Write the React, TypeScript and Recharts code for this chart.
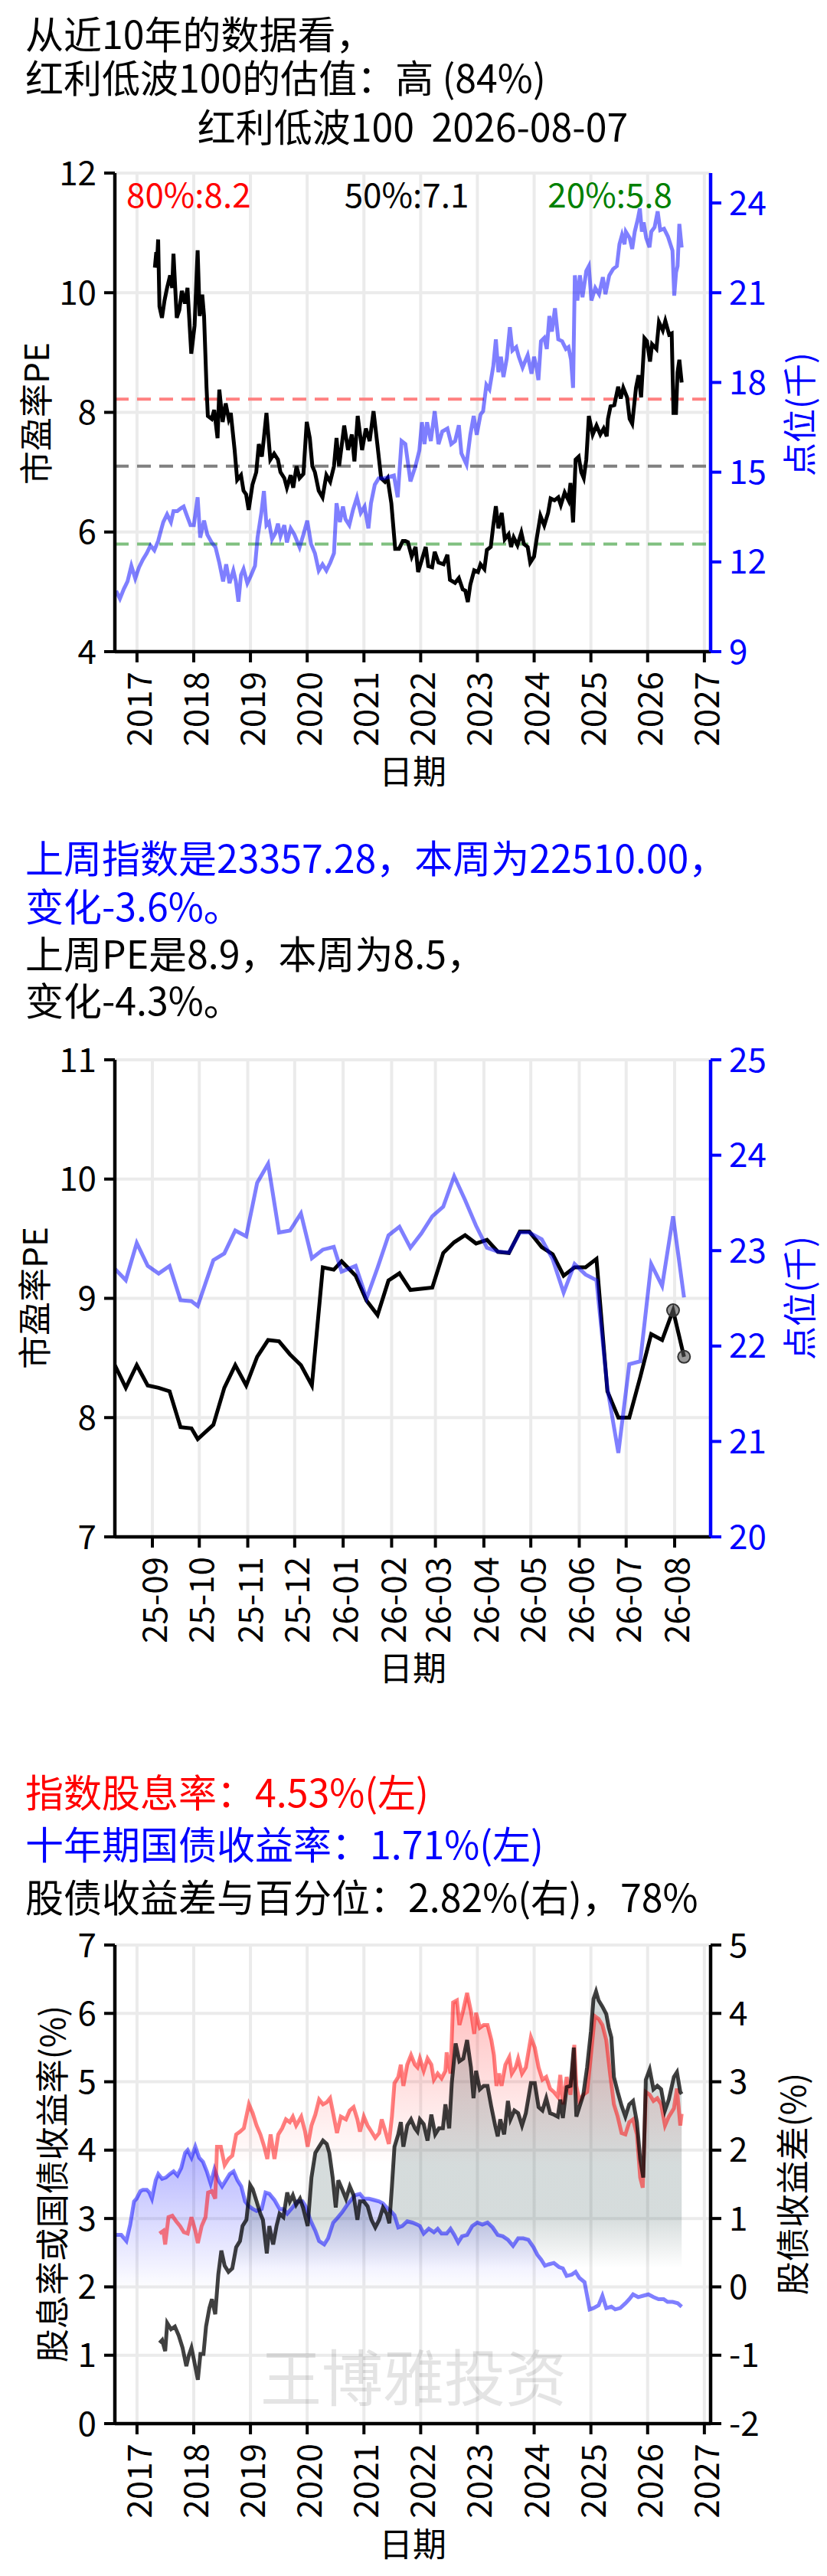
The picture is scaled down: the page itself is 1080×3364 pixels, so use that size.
import {
  ComposedChart,
  Line,
  Area,
  XAxis,
  YAxis,
  CartesianGrid,
  ReferenceLine,
  ReferenceDot,
} from 'recharts'

const FONT = '"Noto Sans CJK SC", "Noto Sans", sans-serif'
const W = 1080
const GRID = '#ebebeb'
const BLUE = '#0000ff'

// x axis of the long charts is in decimal years
const YEAR_TICKS = [2017, 2018, 2019, 2020, 2021, 2022, 2023, 2024, 2025, 2026, 2027]
const YEAR_DOMAIN = [2016.61, 2027.11]

// ---- chart 1: 10y PE vs index level (thousands) ----
const PE_P80 = 8.22
const PE_P50 = 7.1
const PE_P20 = 5.8

const PE_10Y: [number, number][] = [
  [2017.315, 10.42], [2017.34, 10.68], [2017.35, 10.45], [2017.373, 10.89], [2017.396, 9.77],
  [2017.44, 9.58], [2017.485, 9.87], [2017.53, 10.08], [2017.584, 10.29], [2017.62, 10.08],
  [2017.643, 10.65], [2017.701, 9.58], [2017.746, 9.71], [2017.791, 10.03], [2017.845, 9.82],
  [2017.89, 10.08], [2017.957, 8.98], [2018.015, 9.45], [2018.069, 10.71], [2018.105, 9.61],
  [2018.15, 9.97], [2018.182, 9.61], [2018.226, 8.41], [2018.249, 7.94], [2018.316, 7.89],
  [2018.361, 8.04], [2018.42, 7.57], [2018.451, 8.38], [2018.51, 7.84], [2018.563, 8.15],
  [2018.617, 7.89], [2018.653, 7.99], [2018.721, 7.37], [2018.766, 6.87], [2018.833, 6.95],
  [2018.878, 6.69], [2018.923, 6.63], [2018.968, 6.37], [2019.035, 6.79], [2019.102, 7.0],
  [2019.147, 7.47], [2019.201, 7.26], [2019.237, 7.57], [2019.282, 7.99], [2019.35, 7.21],
  [2019.417, 7.31], [2019.484, 7.21], [2019.529, 7.0], [2019.597, 6.9], [2019.642, 6.74],
  [2019.709, 6.95], [2019.754, 6.74], [2019.812, 7.1], [2019.866, 6.9], [2019.933, 6.97],
  [2019.992, 7.84], [2020.046, 7.57], [2020.091, 7.1], [2020.136, 7.0], [2020.203, 6.69],
  [2020.27, 6.58], [2020.338, 6.95], [2020.405, 6.84], [2020.472, 7.1], [2020.517, 7.57],
  [2020.562, 7.1], [2020.652, 7.78], [2020.72, 7.37], [2020.787, 7.63], [2020.832, 7.18],
  [2020.89, 7.94], [2020.967, 7.37], [2021.034, 7.73], [2021.101, 7.52], [2021.169, 8.02],
  [2021.236, 7.47], [2021.303, 6.9], [2021.371, 6.84], [2021.416, 6.9], [2021.483, 6.48],
  [2021.551, 5.72], [2021.618, 5.72], [2021.685, 5.85], [2021.73, 5.85], [2021.775, 5.83],
  [2021.842, 5.59], [2021.91, 5.75], [2021.955, 5.33], [2022.022, 5.54], [2022.089, 5.75],
  [2022.134, 5.43], [2022.202, 5.41], [2022.247, 5.67], [2022.314, 5.49], [2022.404, 5.46],
  [2022.471, 5.62], [2022.516, 5.2], [2022.606, 5.15], [2022.673, 5.23], [2022.741, 5.04],
  [2022.786, 5.02], [2022.831, 4.83], [2022.875, 5.12], [2022.943, 5.36], [2023.01, 5.33],
  [2023.055, 5.46], [2023.123, 5.38], [2023.167, 5.7], [2023.235, 5.75], [2023.28, 6.11],
  [2023.325, 6.43], [2023.37, 6.06], [2023.428, 6.32], [2023.482, 5.88], [2023.549, 5.96],
  [2023.594, 5.75], [2023.639, 5.91], [2023.706, 5.78], [2023.774, 5.99], [2023.819, 5.8],
  [2023.886, 5.75], [2023.931, 5.49], [2023.998, 5.59], [2024.043, 5.88], [2024.111, 6.27],
  [2024.178, 6.11], [2024.246, 6.32], [2024.29, 6.56], [2024.358, 6.53], [2024.425, 6.58],
  [2024.47, 6.45], [2024.538, 6.66], [2024.605, 6.53], [2024.641, 6.82], [2024.686, 6.16],
  [2024.731, 7.21], [2024.785, 7.26], [2024.83, 7.0], [2024.874, 6.9], [2024.919, 7.21],
  [2024.964, 7.94], [2025.032, 7.63], [2025.099, 7.78], [2025.166, 7.63], [2025.225, 7.73],
  [2025.279, 7.6], [2025.301, 7.89], [2025.346, 8.1], [2025.413, 8.12], [2025.481, 8.43],
  [2025.526, 8.23], [2025.571, 8.41], [2025.638, 8.25], [2025.683, 7.89], [2025.728, 7.81],
  [2025.795, 8.41], [2025.84, 8.62], [2025.885, 8.25], [2025.944, 9.24], [2025.988, 9.19],
  [2026.042, 8.85], [2026.078, 9.14], [2026.155, 9.06], [2026.2, 9.51], [2026.267, 9.37],
  [2026.312, 9.53], [2026.379, 9.3], [2026.424, 9.32], [2026.456, 7.99], [2026.5, 7.99],
  [2026.527, 8.67], [2026.559, 8.88], [2026.6, 8.5],
]

const IDX_10Y: [number, number][] = [
  [2016.632, 11.03], [2016.699, 10.77], [2016.767, 11.09], [2016.834, 11.35], [2016.901, 11.87],
  [2016.969, 11.45], [2017.036, 11.82], [2017.104, 12.08], [2017.171, 12.29], [2017.238, 12.55],
  [2017.306, 12.39], [2017.373, 12.7], [2017.418, 13.02], [2017.463, 13.33], [2017.53, 13.59],
  [2017.598, 13.33], [2017.643, 13.7], [2017.71, 13.7], [2017.777, 13.8], [2017.822, 13.85],
  [2017.881, 13.54], [2017.943, 13.23], [2018.002, 13.23], [2018.069, 14.16], [2018.114, 12.81],
  [2018.182, 13.38], [2018.24, 12.91], [2018.316, 12.65], [2018.384, 12.49], [2018.451, 11.97],
  [2018.518, 11.35], [2018.572, 11.92], [2018.631, 11.29], [2018.698, 11.71], [2018.743, 11.35],
  [2018.788, 10.67], [2018.833, 11.56], [2018.878, 11.76], [2018.945, 11.29], [2019.012, 11.56],
  [2019.08, 11.87], [2019.125, 12.81], [2019.192, 13.64], [2019.237, 14.37], [2019.282, 13.23],
  [2019.327, 13.33], [2019.381, 12.76], [2019.439, 12.96], [2019.484, 13.28], [2019.529, 12.86],
  [2019.597, 13.23], [2019.642, 12.65], [2019.709, 13.12], [2019.776, 12.91], [2019.866, 12.49],
  [2019.933, 12.91], [2020.001, 13.38], [2020.068, 12.6], [2020.136, 12.29], [2020.203, 11.71],
  [2020.27, 11.92], [2020.338, 11.71], [2020.405, 11.97], [2020.472, 12.29], [2020.517, 13.96],
  [2020.576, 13.33], [2020.63, 13.85], [2020.675, 13.43], [2020.742, 13.23], [2020.809, 13.75],
  [2020.877, 14.16], [2020.944, 13.64], [2021.011, 13.85], [2021.079, 13.12], [2021.124, 13.96],
  [2021.191, 14.58], [2021.259, 14.79], [2021.348, 14.79], [2021.438, 14.84], [2021.528, 14.89],
  [2021.595, 14.16], [2021.663, 16.04], [2021.73, 15.94], [2021.82, 14.69], [2021.91, 15.21],
  [2021.977, 15.73], [2022.022, 16.67], [2022.067, 15.94], [2022.112, 16.67], [2022.179, 16.04],
  [2022.247, 17.04], [2022.314, 15.94], [2022.381, 16.36], [2022.471, 16.46], [2022.539, 15.94],
  [2022.606, 16.04], [2022.673, 16.57], [2022.718, 15.63], [2022.808, 15.26], [2022.875, 16.25],
  [2022.934, 16.88], [2022.988, 16.25], [2023.055, 16.93], [2023.1, 17.04], [2023.158, 17.92],
  [2023.212, 17.77], [2023.28, 18.55], [2023.325, 19.44], [2023.37, 18.34], [2023.414, 18.86],
  [2023.459, 18.18], [2023.518, 18.81], [2023.572, 19.85], [2023.617, 19.07], [2023.684, 19.18],
  [2023.729, 18.86], [2023.796, 18.5], [2023.841, 18.71], [2023.886, 18.91], [2023.954, 18.29],
  [2023.998, 18.86], [2024.043, 18.5], [2024.075, 18.08], [2024.12, 19.38], [2024.178, 19.49],
  [2024.223, 19.12], [2024.268, 20.22], [2024.313, 19.7], [2024.367, 20.48], [2024.425, 19.44],
  [2024.493, 19.38], [2024.56, 19.12], [2024.605, 19.18], [2024.65, 18.76], [2024.686, 17.82],
  [2024.717, 21.58], [2024.762, 20.74], [2024.807, 21.58], [2024.852, 20.85], [2024.919, 21.73],
  [2024.964, 21.89], [2025.009, 20.74], [2025.077, 21.16], [2025.144, 20.95], [2025.211, 21.52],
  [2025.256, 20.95], [2025.324, 21.58], [2025.391, 21.79], [2025.458, 21.89], [2025.503, 22.62],
  [2025.548, 22.93], [2025.593, 22.62], [2025.616, 23.04], [2025.683, 22.83], [2025.728, 22.46],
  [2025.773, 23.04], [2025.827, 23.46], [2025.863, 23.82], [2025.899, 23.04], [2025.93, 23.35],
  [2025.975, 22.83], [2026.033, 22.52], [2026.065, 23.04], [2026.123, 23.19], [2026.177, 23.72],
  [2026.222, 23.09], [2026.289, 23.14], [2026.357, 22.88], [2026.402, 22.62], [2026.438, 22.41],
  [2026.469, 20.9], [2026.501, 21.68], [2026.528, 21.89], [2026.559, 23.3], [2026.6, 22.51],
]

// ---- chart 2: last year, weekly ----
const W_DATES = [
  '2025-08-08', '2025-08-15', '2025-08-22', '2025-08-29', '2025-09-05', '2025-09-12', '2025-09-19',
  '2025-09-26', '2025-09-30', '2025-10-10', '2025-10-17', '2025-10-24', '2025-10-31', '2025-11-07',
  '2025-11-14', '2025-11-21', '2025-11-28', '2025-12-05', '2025-12-12', '2025-12-19', '2025-12-26',
  '2025-12-31', '2026-01-09', '2026-01-16', '2026-01-23', '2026-01-30', '2026-02-06', '2026-02-13',
  '2026-02-20', '2026-02-27', '2026-03-06', '2026-03-13', '2026-03-20', '2026-03-27', '2026-04-03',
  '2026-04-10', '2026-04-17', '2026-04-24', '2026-04-30', '2026-05-08', '2026-05-15', '2026-05-22',
  '2026-05-29', '2026-06-05', '2026-06-12', '2026-06-19', '2026-06-26', '2026-07-03', '2026-07-10',
  '2026-07-17', '2026-07-24', '2026-07-31', '2026-08-07',
]
const W_PE = [
  8.44, 8.25, 8.44, 8.27, 8.25, 8.22, 7.92, 7.91, 7.82, 7.94,
  8.25, 8.44, 8.27, 8.51, 8.65, 8.64, 8.53, 8.44, 8.27, 9.26,
  9.24, 9.31, 9.19, 8.98, 8.86, 9.15, 9.21, 9.07, 9.08, 9.09,
  9.38, 9.47, 9.53, 9.46, 9.49, 9.39, 9.38, 9.56, 9.56, 9.43,
  9.37, 9.19, 9.26, 9.26, 9.33, 8.22, 8.0, 8.0, 8.34, 8.7,
  8.65, 8.9, 8.51,
]
const W_IDX = [
  22.81, 22.69, 23.08, 22.84, 22.76, 22.84, 22.48, 22.47, 22.42, 22.9,
  22.97, 23.21, 23.15, 23.71, 23.91, 23.19, 23.21, 23.39, 22.92, 23.01,
  23.04, 22.78, 22.84, 22.5, 22.82, 23.16, 23.25, 23.03, 23.18, 23.36,
  23.46, 23.78, 23.53, 23.26, 23.03, 22.99, 22.98, 23.19, 23.19, 23.12,
  22.91, 22.56, 22.86, 22.75, 22.69, 21.56, 20.88, 21.81, 21.84, 22.86,
  22.63, 23.36, 22.51,
]
const MONTH_TICKS = [
  '2025-09-01', '2025-10-01', '2025-11-01', '2025-12-01', '2026-01-01', '2026-02-01',
  '2026-03-01', '2026-04-01', '2026-05-01', '2026-06-01', '2026-07-01', '2026-08-01',
]
const W_DOMAIN = ['2025-08-08', '2026-08-24']

// ---- chart 3: dividend yield, 10y bond yield, spread ----
const BOND_10Y: [number, number][] = [
  [2016.633, 2.76], [2016.723, 2.76], [2016.813, 2.67], [2016.88, 2.91], [2016.948, 3.25],
  [2016.993, 3.29], [2017.06, 3.4], [2017.105, 3.42], [2017.173, 3.42], [2017.218, 3.38],
  [2017.263, 3.29], [2017.33, 3.56], [2017.375, 3.65], [2017.443, 3.58], [2017.51, 3.6],
  [2017.578, 3.65], [2017.645, 3.69], [2017.713, 3.63], [2017.78, 3.74], [2017.848, 3.96],
  [2017.893, 4.0], [2017.96, 3.89], [2018.028, 4.05], [2018.095, 3.89], [2018.163, 3.83],
  [2018.23, 3.69], [2018.298, 3.51], [2018.365, 3.72], [2018.433, 3.56], [2018.5, 3.47],
  [2018.568, 3.56], [2018.635, 3.65], [2018.703, 3.69], [2018.77, 3.56], [2018.838, 3.47],
  [2018.905, 3.25], [2018.973, 3.18], [2019.04, 3.14], [2019.108, 3.11], [2019.198, 3.14],
  [2019.265, 3.38], [2019.333, 3.36], [2019.423, 3.27], [2019.513, 3.14], [2019.58, 3.14],
  [2019.648, 3.07], [2019.738, 3.16], [2019.828, 3.25], [2019.918, 3.25], [2019.985, 3.16],
  [2020.053, 2.98], [2020.143, 2.82], [2020.21, 2.67], [2020.3, 2.62], [2020.368, 2.71],
  [2020.458, 2.94], [2020.525, 3.0], [2020.615, 3.09], [2020.705, 3.2], [2020.773, 3.27],
  [2020.84, 3.34], [2020.93, 3.36], [2020.998, 3.29], [2021.088, 3.29], [2021.178, 3.27],
  [2021.268, 3.25], [2021.335, 3.22], [2021.403, 3.16], [2021.47, 3.11], [2021.538, 3.05],
  [2021.605, 2.87], [2021.673, 2.89], [2021.763, 2.96], [2021.853, 2.94], [2021.943, 2.91],
  [2021.986, 2.89], [2022.053, 2.78], [2022.143, 2.85], [2022.233, 2.8], [2022.3, 2.85],
  [2022.368, 2.78], [2022.458, 2.78], [2022.526, 2.85], [2022.593, 2.76], [2022.661, 2.65],
  [2022.728, 2.74], [2022.818, 2.76], [2022.908, 2.89], [2022.998, 2.94], [2023.088, 2.91],
  [2023.178, 2.94], [2023.268, 2.87], [2023.358, 2.76], [2023.448, 2.74], [2023.538, 2.69],
  [2023.628, 2.6], [2023.718, 2.71], [2023.808, 2.71], [2023.898, 2.69], [2023.988, 2.58],
  [2024.056, 2.47], [2024.123, 2.4], [2024.191, 2.31], [2024.258, 2.33], [2024.348, 2.35],
  [2024.438, 2.29], [2024.506, 2.27], [2024.573, 2.16], [2024.663, 2.18], [2024.731, 2.22],
  [2024.798, 2.13], [2024.888, 2.07], [2024.933, 1.87], [2024.978, 1.67], [2025.046, 1.69],
  [2025.136, 1.73], [2025.203, 1.87], [2025.271, 1.69], [2025.361, 1.71], [2025.428, 1.67],
  [2025.518, 1.69], [2025.608, 1.76], [2025.676, 1.82], [2025.743, 1.89], [2025.833, 1.85],
  [2025.923, 1.87], [2026.013, 1.89], [2026.103, 1.85], [2026.193, 1.82], [2026.283, 1.82],
  [2026.351, 1.78], [2026.441, 1.78], [2026.531, 1.76], [2026.6, 1.71],
]

const DIV_YIELD: [number, number][] = [
  [2017.398, 2.78], [2017.465, 2.82], [2017.497, 2.62], [2017.555, 3.02], [2017.623, 3.04],
  [2017.69, 2.96], [2017.758, 2.89], [2017.825, 2.8], [2017.893, 2.78], [2017.96, 3.02],
  [2018.028, 2.82], [2018.073, 2.64], [2018.14, 2.89], [2018.208, 3.02], [2018.253, 3.38],
  [2018.32, 3.4], [2018.379, 3.29], [2018.41, 4.05], [2018.478, 4.05], [2018.545, 3.78],
  [2018.613, 3.87], [2018.68, 3.92], [2018.748, 4.23], [2018.815, 4.27], [2018.883, 4.32],
  [2018.973, 4.67], [2019.04, 4.54], [2019.108, 4.36], [2019.175, 4.23], [2019.243, 4.05],
  [2019.297, 3.87], [2019.355, 4.23], [2019.423, 3.87], [2019.49, 4.23], [2019.558, 4.32],
  [2019.625, 4.45], [2019.693, 4.41], [2019.747, 4.49], [2019.805, 4.36], [2019.895, 4.49],
  [2019.963, 4.27], [2020.008, 4.05], [2020.075, 4.36], [2020.143, 4.52], [2020.21, 4.74],
  [2020.278, 4.67], [2020.345, 4.7], [2020.404, 4.76], [2020.458, 4.54], [2020.525, 4.25],
  [2020.593, 4.49], [2020.683, 4.45], [2020.75, 4.58], [2020.818, 4.63], [2020.885, 4.45],
  [2020.93, 4.27], [2020.998, 4.49], [2021.065, 4.36], [2021.133, 4.27], [2021.2, 4.18],
  [2021.268, 4.25], [2021.313, 4.45], [2021.38, 4.27], [2021.439, 4.09], [2021.493, 4.49],
  [2021.538, 4.98], [2021.605, 5.07], [2021.65, 5.25], [2021.695, 4.94], [2021.763, 5.25],
  [2021.83, 5.39], [2021.898, 5.25], [2021.943, 5.21], [2021.986, 5.34], [2022.053, 5.16],
  [2022.121, 5.34], [2022.188, 5.25], [2022.233, 5.03], [2022.3, 5.12], [2022.368, 5.05],
  [2022.436, 5.16], [2022.458, 5.43], [2022.526, 5.12], [2022.571, 6.16], [2022.638, 6.19],
  [2022.683, 5.83], [2022.751, 6.05], [2022.818, 6.3], [2022.886, 6.03], [2022.944, 5.7],
  [2022.976, 6.01], [2023.043, 5.79], [2023.111, 5.83], [2023.178, 5.83], [2023.246, 5.61],
  [2023.291, 5.39], [2023.336, 4.94], [2023.381, 5.12], [2023.426, 4.94], [2023.493, 5.25],
  [2023.561, 5.36], [2023.606, 5.12], [2023.673, 5.21], [2023.718, 5.34], [2023.786, 5.12],
  [2023.853, 5.21], [2023.943, 5.65], [2024.011, 5.5], [2024.078, 5.21], [2024.146, 5.03],
  [2024.213, 5.07], [2024.281, 4.9], [2024.348, 4.85], [2024.416, 4.78], [2024.461, 5.1],
  [2024.506, 4.67], [2024.573, 5.07], [2024.641, 4.81], [2024.708, 5.54], [2024.744, 4.94],
  [2024.798, 4.72], [2024.866, 4.81], [2024.933, 4.85], [2025.001, 5.39], [2025.068, 5.96],
  [2025.136, 5.92], [2025.203, 5.83], [2025.271, 5.61], [2025.338, 5.12], [2025.406, 4.67],
  [2025.473, 4.49], [2025.541, 4.25], [2025.608, 4.23], [2025.676, 4.41], [2025.743, 4.45],
  [2025.811, 4.23], [2025.869, 3.6], [2025.914, 3.45], [2025.968, 4.85], [2026.036, 4.81],
  [2026.103, 4.72], [2026.171, 4.76], [2026.238, 4.67], [2026.306, 4.36], [2026.373, 4.49],
  [2026.463, 4.61], [2026.517, 4.9], [2026.576, 4.36], [2026.6, 4.53],
]

const SPREAD: [number, number][] = [
  [2017.398, -0.82], [2017.443, -0.78], [2017.497, -0.94], [2017.533, -0.53], [2017.6, -0.62],
  [2017.668, -0.58], [2017.735, -0.71], [2017.803, -0.89], [2017.87, -1.16], [2017.915, -1.0],
  [2017.96, -0.89], [2018.005, -1.07], [2018.073, -1.36], [2018.118, -0.98], [2018.172, -0.98],
  [2018.217, -0.58], [2018.276, -0.31], [2018.321, -0.18], [2018.379, -0.4], [2018.433, 0.18],
  [2018.487, 0.53], [2018.545, 0.31], [2018.613, 0.22], [2018.68, 0.27], [2018.748, 0.58],
  [2018.815, 0.67], [2018.86, 0.89], [2018.928, 0.98], [2018.995, 1.49], [2019.04, 1.43],
  [2019.108, 1.25], [2019.175, 1.07], [2019.22, 0.98], [2019.288, 0.49], [2019.333, 0.89],
  [2019.4, 0.62], [2019.459, 0.89], [2019.513, 1.07], [2019.58, 1.02], [2019.648, 1.38],
  [2019.693, 1.25], [2019.747, 1.34], [2019.805, 1.2], [2019.873, 1.29], [2019.927, 1.16],
  [2020.008, 0.89], [2020.075, 1.6], [2020.143, 1.96], [2020.21, 2.05], [2020.278, 2.14],
  [2020.345, 2.09], [2020.39, 1.96], [2020.449, 1.6], [2020.503, 1.16], [2020.548, 1.56],
  [2020.615, 1.43], [2020.683, 1.29], [2020.75, 1.47], [2020.818, 1.34], [2020.885, 0.98],
  [2020.93, 1.25], [2020.998, 1.25], [2021.065, 1.18], [2021.133, 0.98], [2021.2, 0.87],
  [2021.268, 0.98], [2021.335, 1.16], [2021.403, 1.07], [2021.448, 0.93], [2021.493, 1.47],
  [2021.538, 2.05], [2021.605, 2.23], [2021.65, 2.41], [2021.695, 2.05], [2021.763, 2.36],
  [2021.83, 2.45], [2021.898, 2.32], [2021.943, 2.27], [2021.986, 2.45], [2022.053, 2.38],
  [2022.121, 2.14], [2022.188, 2.52], [2022.256, 2.23], [2022.323, 2.32], [2022.391, 2.32],
  [2022.436, 2.67], [2022.503, 2.32], [2022.548, 2.98], [2022.616, 3.56], [2022.683, 3.3],
  [2022.751, 3.34], [2022.818, 3.61], [2022.886, 3.21], [2022.931, 2.76], [2022.976, 3.16],
  [2023.043, 2.89], [2023.111, 2.94], [2023.178, 2.94], [2023.246, 2.63], [2023.313, 2.36],
  [2023.358, 2.2], [2023.403, 2.45], [2023.471, 2.23], [2023.538, 2.72], [2023.583, 2.45],
  [2023.651, 2.58], [2023.718, 2.54], [2023.786, 2.36], [2023.853, 2.54], [2023.943, 2.98],
  [2024.011, 2.98], [2024.078, 2.63], [2024.146, 2.58], [2024.213, 2.76], [2024.281, 2.54],
  [2024.348, 2.52], [2024.416, 2.49], [2024.461, 2.74], [2024.506, 2.47], [2024.573, 2.92],
  [2024.641, 2.94], [2024.699, 3.5], [2024.744, 2.49], [2024.798, 2.63], [2024.866, 2.81],
  [2024.933, 3.21], [2025.001, 3.74], [2025.046, 4.21], [2025.091, 4.32], [2025.136, 4.19],
  [2025.203, 4.1], [2025.271, 3.99], [2025.316, 3.79], [2025.361, 3.65], [2025.406, 3.07],
  [2025.473, 2.85], [2025.541, 2.65], [2025.608, 2.49], [2025.676, 2.67], [2025.743, 2.72],
  [2025.811, 2.41], [2025.869, 1.87], [2025.923, 1.6], [2025.968, 3.03], [2026.036, 3.18],
  [2026.103, 2.89], [2026.171, 2.94], [2026.238, 2.89], [2026.306, 2.58], [2026.373, 2.74],
  [2026.463, 3.07], [2026.517, 3.14], [2026.576, 2.85], [2026.6, 2.82],
]

const pairs = (rows: [number, number][]) => rows.map(([x, y]) => ({ x, y }))
const ts = (d: string) => Date.parse(d)
const monthLabel = (v: number) => {
  const d = new Date(v)
  return `${String(d.getUTCFullYear()).slice(2)}-${String(d.getUTCMonth() + 1).padStart(2, '0')}`
}

// rotated x tick, text ends at the tick
function RotTick(props: any) {
  const { x, y, payload, fmt } = props
  return (
    <text
      x={x}
      y={y}
      transform={`rotate(-90 ${x} ${y})`}
      textAnchor="end"
      dominantBaseline="central"
      fontSize={44}
      fontFamily={FONT}
      fill="#000"
    >
      {fmt ? fmt(payload.value) : payload.value}
    </text>
  )
}

// html text block, y = visual centre of the first line, lh = line pitch
function Txt({ x, y, size = 50, lh, color = '#000', align = 'left', children }: any) {
  const pitch = lh ?? size
  const style: any = {
    position: 'absolute',
    top: y - (pitch / 2 + 0.06 * size),
    fontSize: size,
    lineHeight: `${pitch}px`,
    color,
    whiteSpace: 'pre',
  }
  if (align === 'left') style.left = x
  if (align === 'center') { style.left = x; style.transform = 'translateX(-50%)' }
  if (align === 'right') style.right = W - x
  return <div style={style}>{children}</div>
}

// vertical axis title, reads bottom to top
function VLabel({ x, y, color = '#000', children }: any) {
  return (
    <svg
      width={60}
      height={600}
      style={{ position: 'absolute', left: x - 30, top: y - 300, overflow: 'visible' }}
    >
      <text
        x={30}
        y={300}
        transform="rotate(-90 30 300)"
        textAnchor="middle"
        dominantBaseline="central"
        fontSize={44}
        fontFamily={FONT}
        fill={color}
      >
        {children}
      </text>
    </svg>
  )
}

const axisLine = (c = '#000') => ({ stroke: c, strokeWidth: 4.5 })
const tickLine = (c = '#000') => ({ stroke: c, strokeWidth: 4 })
const tickFont = (c = '#000') => ({ fontSize: 44, fill: c, fontFamily: FONT })

function Box({ top, height, children }: any) {
  return <div style={{ position: 'absolute', left: 0, top, width: W, height }}>{children}</div>
}

function PeChart() {
  return (
    <Box top={0} height={1060}>
      <ComposedChart width={W} height={1060} margin={{ top: 226, right: 0, bottom: 0, left: 0 }}>
        <CartesianGrid yAxisId="left" stroke={GRID} strokeWidth={4} />
        <XAxis
          dataKey="x" type="number" domain={YEAR_DOMAIN} ticks={YEAR_TICKS} interval={0}
          allowDataOverflow height={209} tickSize={14} tickMargin={12}
          axisLine={axisLine()} tickLine={tickLine()} tick={<RotTick />}
        />
        <XAxis
          xAxisId="top" orientation="top" type="number" domain={YEAR_DOMAIN} height={0}
          tick={false} tickLine={false} axisLine={axisLine()}
        />
        <YAxis
          yAxisId="left" type="number" domain={[4, 12]} ticks={[4, 6, 8, 10, 12]} interval={0}
          width={150} tickSize={14} tickMargin={10}
          axisLine={axisLine()} tickLine={tickLine()} tick={tickFont()}
        />
        <YAxis
          yAxisId="right" orientation="right" type="number" domain={[9, 25]}
          ticks={[9, 12, 15, 18, 21, 24]} interval={0} width={152} tickSize={14} tickMargin={10}
          axisLine={axisLine(BLUE)} tickLine={tickLine(BLUE)} tick={tickFont(BLUE)}
        />
        <ReferenceLine yAxisId="left" y={PE_P80} stroke="#ff8080" strokeWidth={4} strokeDasharray="18 11" />
        <ReferenceLine yAxisId="left" y={PE_P50} stroke="#808080" strokeWidth={4} strokeDasharray="18 11" />
        <ReferenceLine yAxisId="left" y={PE_P20} stroke="#80c080" strokeWidth={4} strokeDasharray="18 11" />
        <Line
          yAxisId="left" data={pairs(PE_10Y)} dataKey="y" type="linear" stroke="#000"
          strokeWidth={5} dot={false} activeDot={false} isAnimationActive={false}
        />
        <Line
          yAxisId="right" data={pairs(IDX_10Y)} dataKey="y" type="linear" stroke={BLUE}
          strokeOpacity={0.5} strokeWidth={5} dot={false} activeDot={false} isAnimationActive={false}
        />
      </ComposedChart>
      <Txt x={33} y={45} lh={57}>{'从近10年的数据看，\n红利低波100的估值：高 (84%)'}</Txt>
      <Txt x={539} y={166} align="center">红利低波100  2026-08-07</Txt>
      <Txt x={165} y={255} size={44} color="#ff0000">80%:{PE_P80.toFixed(1)}</Txt>
      <Txt x={531} y={255} size={44} align="center">50%:{PE_P50.toFixed(1)}</Txt>
      <Txt x={878} y={255} size={44} color="#008000" align="right">20%:{PE_P20.toFixed(1)}</Txt>
      <VLabel x={45} y={540}>市盈率PE</VLabel>
      <VLabel x={1042} y={541} color={BLUE}>点位(千)</VLabel>
      <Txt x={539} y={1008} size={44} align="center">日期</Txt>
    </Box>
  )
}

function WeekChart() {
  const rows = W_DATES.map((d, i) => ({ x: ts(d), pe: W_PE[i], idx: W_IDX[i] }))
  const dom = W_DOMAIN.map(ts)
  const n = W_DATES.length
  return (
    <Box top={1100} height={1130}>
      <ComposedChart width={W} height={1130} margin={{ top: 284, right: 0, bottom: 0, left: 0 }}>
        <CartesianGrid yAxisId="left" stroke={GRID} strokeWidth={4} />
        <XAxis
          dataKey="x" type="number" domain={dom} ticks={MONTH_TICKS.map(ts)} interval={0}
          allowDataOverflow height={223} tickSize={14} tickMargin={12}
          axisLine={axisLine()} tickLine={tickLine()} tick={<RotTick fmt={monthLabel} />}
        />
        <XAxis
          xAxisId="top" orientation="top" type="number" domain={dom} height={0}
          tick={false} tickLine={false} axisLine={axisLine()}
        />
        <YAxis
          yAxisId="left" type="number" domain={[7, 11]} ticks={[7, 8, 9, 10, 11]} interval={0}
          width={150} tickSize={14} tickMargin={10}
          axisLine={axisLine()} tickLine={tickLine()} tick={tickFont()}
        />
        <YAxis
          yAxisId="right" orientation="right" type="number" domain={[20, 25]}
          ticks={[20, 21, 22, 23, 24, 25]} interval={0} width={152} tickSize={14} tickMargin={10}
          axisLine={axisLine(BLUE)} tickLine={tickLine(BLUE)} tick={tickFont(BLUE)}
        />
        <Line
          yAxisId="left" data={rows} dataKey="pe" type="linear" stroke="#000"
          strokeWidth={5} dot={false} activeDot={false} isAnimationActive={false}
        />
        <Line
          yAxisId="right" data={rows} dataKey="idx" type="linear" stroke={BLUE}
          strokeOpacity={0.5} strokeWidth={5} dot={false} activeDot={false} isAnimationActive={false}
        />
        <ReferenceDot
          yAxisId="left" x={rows[n - 2].x} y={rows[n - 2].pe} r={8}
          fill="#555" fillOpacity={0.6} stroke="#333" strokeWidth={2}
        />
        <ReferenceDot
          yAxisId="left" x={rows[n - 1].x} y={rows[n - 1].pe} r={8}
          fill="#555" fillOpacity={0.6} stroke="#333" strokeWidth={2}
        />
      </ComposedChart>
      <Txt x={33} y={21} lh={63} color={BLUE}>
        {'上周指数是23357.28，本周为22510.00，\n变化-3.6%。'}
      </Txt>
      <Txt x={33} y={146} lh={61}>{'上周PE是8.9，本周为8.5，\n变化-4.3%。'}</Txt>
      <VLabel x={43} y={595}>市盈率PE</VLabel>
      <VLabel x={1042} y={595} color={BLUE}>点位(千)</VLabel>
      <Txt x={539} y={1079} size={44} align="center">日期</Txt>
    </Box>
  )
}

function YieldChart() {
  return (
    <Box top={2280} height={1084}>
      <ComposedChart width={W} height={1084} margin={{ top: 260, right: 0, bottom: 0, left: 0 }}>
        <defs>
          <linearGradient id="gBond" x1="0" y1="0" x2="0" y2="1">
            <stop offset="0" stopColor="#0000ff" stopOpacity={0.3} />
            <stop offset="0.52" stopColor="#0000ff" stopOpacity={0} />
          </linearGradient>
          <linearGradient id="gDiv" x1="0" y1="0" x2="0" y2="1">
            <stop offset="0" stopColor="#ff0000" stopOpacity={0.26} />
            <stop offset="0.4" stopColor="#ff0000" stopOpacity={0} />
          </linearGradient>
          <linearGradient id="gSpread" x1="0" y1="0" x2="0" y2="1">
            <stop offset="0" stopColor="#2f4f4f" stopOpacity={0.2} />
            <stop offset="0.52" stopColor="#2f4f4f" stopOpacity={0.2} />
            <stop offset="0.64" stopColor="#2f4f4f" stopOpacity={0} />
          </linearGradient>
        </defs>
        <CartesianGrid yAxisId="left" stroke={GRID} strokeWidth={4} />
        <XAxis
          dataKey="x" type="number" domain={YEAR_DOMAIN} ticks={YEAR_TICKS} interval={0}
          allowDataOverflow height={199} tickSize={14} tickMargin={12}
          axisLine={axisLine()} tickLine={tickLine()} tick={<RotTick />}
        />
        <XAxis
          xAxisId="top" orientation="top" type="number" domain={YEAR_DOMAIN} height={0}
          tick={false} tickLine={false} axisLine={axisLine()}
        />
        <YAxis
          yAxisId="left" type="number" domain={[0, 7]} ticks={[0, 1, 2, 3, 4, 5, 6, 7]} interval={0}
          width={150} tickSize={14} tickMargin={10}
          axisLine={axisLine()} tickLine={tickLine()} tick={tickFont()}
        />
        <YAxis
          yAxisId="right" orientation="right" type="number" domain={[-2, 5]}
          ticks={[-2, -1, 0, 1, 2, 3, 4, 5]} interval={0} width={152} tickSize={14} tickMargin={10}
          axisLine={axisLine()} tickLine={tickLine()} tick={tickFont()}
        />
        <Area
          yAxisId="left" data={pairs(BOND_10Y)} dataKey="y" type="linear" stroke="none"
          fill="url(#gBond)" fillOpacity={1} baseValue={0} dot={false} activeDot={false}
          isAnimationActive={false}
        />
        <Area
          yAxisId="left" data={pairs(DIV_YIELD)} dataKey="y" type="linear" stroke="none"
          fill="url(#gDiv)" fillOpacity={1} baseValue={0} dot={false} activeDot={false}
          isAnimationActive={false}
        />
        <Area
          yAxisId="right" data={pairs(SPREAD)} dataKey="y" type="linear" stroke="none"
          fill="url(#gSpread)" fillOpacity={1} baseValue={-2} dot={false} activeDot={false}
          isAnimationActive={false}
        />
        <Line
          yAxisId="left" data={pairs(BOND_10Y)} dataKey="y" type="linear" stroke={BLUE}
          strokeOpacity={0.5} strokeWidth={5} dot={false} activeDot={false} isAnimationActive={false}
        />
        <Line
          yAxisId="left" data={pairs(DIV_YIELD)} dataKey="y" type="linear" stroke="#ff0000"
          strokeOpacity={0.5} strokeWidth={5} dot={false} activeDot={false} isAnimationActive={false}
        />
        <Line
          yAxisId="right" data={pairs(SPREAD)} dataKey="y" type="linear" stroke="#000"
          strokeOpacity={0.75} strokeWidth={5} dot={false} activeDot={false} isAnimationActive={false}
        />
      </ComposedChart>
      <Txt x={33} y={61} color="#ff0000">指数股息率：4.53%(左)</Txt>
      <Txt x={33} y={129} color={BLUE}>十年期国债收益率：1.71%(左)</Txt>
      <Txt x={33} y={198}>股债收益差与百分位：2.82%(右)，78%</Txt>
      <div
        style={{
          position: 'absolute', left: 540, top: 820, transform: 'translate(-50%, -50%)',
          fontSize: 80, lineHeight: '80px', color: '#000', opacity: 0.1, whiteSpace: 'nowrap',
        }}
      >
        王博雅投资
      </div>
      <VLabel x={66} y={572}>股息率或国债收益率(%)</VLabel>
      <VLabel x={1033} y={572}>股债收益差(%)</VLabel>
      <Txt x={539} y={1043} size={44} align="center">日期</Txt>
    </Box>
  )
}

export default function App() {
  return (
    <div
      style={{
        position: 'absolute', left: 0, top: 0, width: W, height: 3364,
        background: '#fff', fontFamily: FONT, overflow: 'hidden',
      }}
    >
      <PeChart />
      <WeekChart />
      <YieldChart />
    </div>
  )
}
